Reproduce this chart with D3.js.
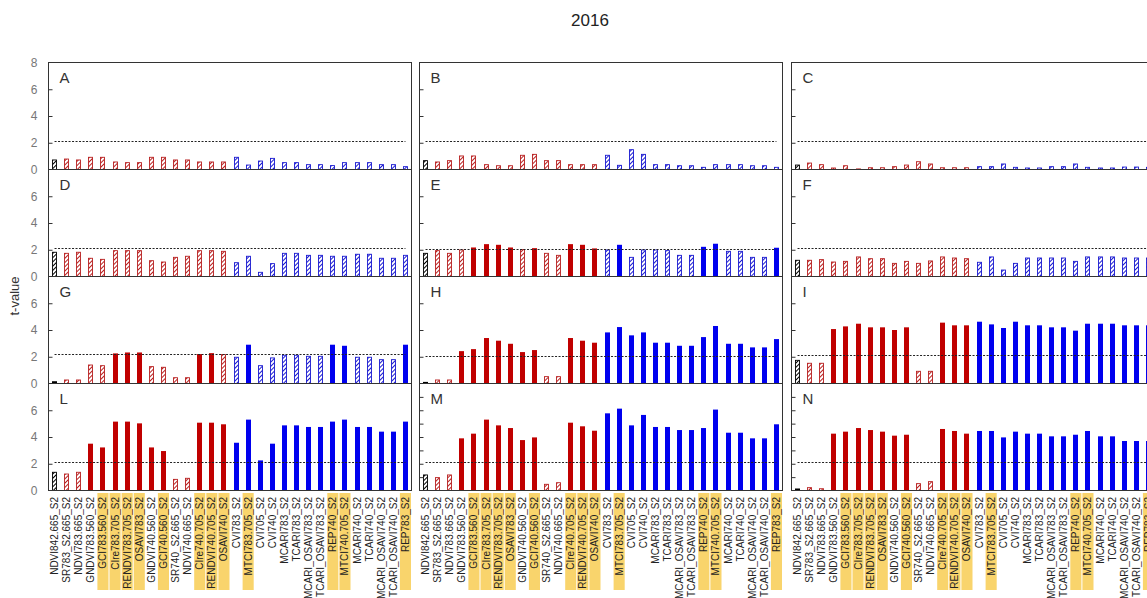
<!DOCTYPE html>
<html>
<head>
<meta charset="utf-8">
<script src="https://cdn.jsdelivr.net/npm/d3@7"></script>
<style>
  body { margin: 0; background: #fff; overflow: hidden; }
  text { font-family: "Liberation Sans", Arial, sans-serif; }
</style>
</head>
<body>
<svg id="chart" width="1147" height="598"></svg>
<script>
// Vegetation indices (x categories), shared by every panel
const categories = [
  "NDVI842.665_S2", "SR783_S2.665_S2", "NDVI783.665_S2", "GNDVI783.560_S2",
  "GCI783.560_S2", "CIre783.705_S2", "RENDVI783.705_S2", "OSAVI783_S2",
  "GNDVI740.560_S2", "GCI740.560_S2", "SR740_S2.665_S2", "NDVI740.665_S2",
  "CIre740.705_S2", "RENDVI740.705_S2", "OSAVI740_S2",
  "CVI783_S2", "MTCI783.705_S2", "CVI705_S2", "CVI740_S2", "MCARI783_S2",
  "TCARI783_S2", "MCARI_OSAVI783_S2", "TCARI_OSAVI783_S2", "REP740_S2",
  "MTCI740.705_S2", "MCARI740_S2", "TCARI740_S2", "MCARI_OSAVI740_S2",
  "TCARI_OSAVI740_S2", "REP783_S2"
];

// Index family: 0 = reference NDVI, 1 = ratio/normalised indices, 2 = chlorophyll/red-edge indices
const family = [0, 1,1,1,1,1,1,1,1,1,1,1,1,1,1, 2,2,2,2,2,2,2,2,2,2,2,2,2,2,2];

// Red-edge indices shown on a highlighted label
const highlighted = [
  "GCI783.560_S2", "CIre783.705_S2", "RENDVI783.705_S2", "OSAVI783_S2",
  "GCI740.560_S2", "CIre740.705_S2", "RENDVI740.705_S2", "OSAVI740_S2",
  "MTCI783.705_S2", "REP740_S2", "MTCI740.705_S2", "REP783_S2"
];

const panelLetters = ["A", "B", "C", "D", "E", "F", "G", "H", "I", "L", "M", "N"];

// t-values per panel
const tA = [0.75,0.82,0.75,0.95,0.95,0.6,0.55,0.55,0.95,0.95,0.75,0.75,0.6,0.6,0.6,0.95,0.37,0.67,0.87,0.55,0.55,0.4,0.4,0.33,0.55,0.55,0.55,0.4,0.4,0.25];
const tB = [0.7,0.6,0.7,1.05,1.05,0.4,0.32,0.32,1.1,1.17,0.7,0.7,0.4,0.4,0.4,1.1,0.35,1.52,1.17,0.4,0.4,0.32,0.32,0.2,0.4,0.4,0.4,0.32,0.32,0.2];
const tC = [0.37,0.52,0.4,0.15,0.32,0.08,0.17,0.17,0.25,0.37,0.62,0.45,0.17,0.17,0.17,0.25,0.25,0.45,0.2,0.15,0.15,0.25,0.25,0.45,0.2,0.15,0.15,0.22,0.22,0.2];
const tD = [1.85,1.77,1.85,1.4,1.32,1.97,1.97,1.97,1.22,1.12,1.47,1.55,1.97,1.97,1.92,1.07,1.55,0.35,1.0,1.77,1.77,1.62,1.62,1.55,1.55,1.7,1.7,1.4,1.4,1.62];
const tE = [1.77,1.97,1.77,2.02,2.17,2.42,2.37,2.17,2.05,2.12,1.77,1.62,2.42,2.37,2.1,2.02,2.37,1.47,2.02,2.02,1.97,1.62,1.62,2.22,2.45,1.92,1.92,1.47,1.47,2.15];
const tF = [1.25,1.25,1.3,1.12,1.17,1.5,1.37,1.37,1.02,1.17,1.02,1.2,1.5,1.42,1.37,1.1,1.5,0.52,1.02,1.42,1.42,1.42,1.42,1.17,1.5,1.5,1.5,1.42,1.42,1.42];
const tG = [0.17,0.3,0.3,1.42,1.37,2.25,2.32,2.32,1.3,1.25,0.47,0.47,2.2,2.27,2.2,2.0,2.9,1.37,1.95,2.15,2.15,2.07,2.07,2.9,2.82,2.0,2.0,1.82,1.82,2.9];
const tH = [0.12,0.3,0.3,2.42,2.57,3.4,3.2,2.97,2.35,2.5,0.55,0.55,3.4,3.2,3.05,3.82,4.22,3.6,3.82,3.05,3.05,2.82,2.82,3.47,4.3,2.97,2.97,2.7,2.7,3.32];
const tI = [1.77,1.55,1.55,4.07,4.27,4.47,4.2,4.2,4.0,4.2,0.95,0.95,4.55,4.35,4.35,4.62,4.42,4.15,4.62,4.35,4.35,4.2,4.2,3.95,4.47,4.47,4.47,4.35,4.35,4.35];
const tL = [1.4,1.27,1.4,3.5,3.22,5.15,5.15,5.02,3.22,2.95,0.87,0.95,5.07,5.07,4.95,3.57,5.3,2.25,3.5,4.87,4.87,4.75,4.75,5.15,5.3,4.75,4.75,4.4,4.4,5.15];
const tM = [1.2,1.0,1.2,3.9,4.25,5.3,4.87,4.67,3.77,3.97,0.5,0.62,5.07,4.8,4.47,5.77,6.12,4.87,5.65,4.75,4.75,4.52,4.52,4.67,6.05,4.32,4.32,3.9,3.9,4.95];
const tN = [0.15,0.25,0.17,4.25,4.4,4.67,4.52,4.4,4.1,4.17,0.55,0.7,4.6,4.45,4.25,4.45,4.45,3.97,4.4,4.25,4.25,4.05,4.05,4.17,4.45,4.05,4.05,3.7,3.7,3.7];

// Significance flags per panel (1 = significant, solid bar; 0 = hatched bar)
const sigA = "000000000000000" + "000000000000000";
const sigB = "000000000000000" + "000000000000000";
const sigC = "000000000000000" + "000000000000000";
const sigD = "000000000000000" + "000000000000000";
const sigE = "000011110100111" + "010000001100001";
const sigF = "000000000000000" + "000000000000000";
const sigG = "100001110000110" + "010000001100001";
const sigH = "100111111100111" + "111111111111111";
const sigI = "000111111100111" + "111111111111111";
const sigL = "000111111100111" + "111111111111111";
const sigM = "000111111100111" + "111111111111111";
const sigN = "100111111100111" + "111111111111111";

// Critical t-value drawn as the dashed line in each panel
const tCrit = [2.16, 2.14, 2.14, 2.14, 2.03, 2.11, 2.2, 2.07, 2.1, 2.15, 2.15, 2.15];

const yTicks = [0, 2, 4, 6, 8];
const yTicksFine = [1, 2, 3, 4, 5, 6, 7];

const panelValues = [tA, tB, tC, tD, tE, tF, tG, tH, tI, tL, tM, tN];
const panelSig = [sigA, sigB, sigC, sigD, sigE, sigF, sigG, sigH, sigI, sigL, sigM, sigN];

// ---- layout ----
const colX = [48.5, 419.5, 791.5];
const rowY = [62.5, 169.5, 276.5, 383.5];
const PW = 363, PH = 107;
const familyColor = ["#000000", "#c00000", "#0000ee"];
const hatchColor = ["#000000", "#b82020", "#1a1ad0"];

const svg = d3.select("#chart");
const defs = svg.append("defs");
hatchColor.forEach((c, i) => {
  const p = defs.append("pattern")
    .attr("id", "hatch" + i)
    .attr("patternUnits", "userSpaceOnUse")
    .attr("width", 3).attr("height", 3)
    .attr("patternTransform", "rotate(45)");
  p.append("rect").attr("width", 3).attr("height", 3).attr("fill", "#fff");
  p.append("line").attr("x1", 0.5).attr("y1", 0).attr("x2", 0.5).attr("y2", 3)
    .attr("stroke", c).attr("stroke-width", 1);
});

// title and y axis title
svg.append("text").attr("x", 590).attr("y", 26).attr("text-anchor", "middle")
  .attr("font-size", 17).attr("fill", "#222").text("2016");
svg.append("text").attr("transform", "translate(19,296) rotate(-90)")
  .attr("text-anchor", "middle").attr("font-size", 13).attr("fill", "#333").text("t-value");

panelLetters.forEach((letter, pi) => {
  const col = pi % 3, row = Math.floor(pi / 3);
  const x0 = colX[col], y0 = rowY[row];
  const values = panelValues[pi];
  const sig = panelSig[pi];

  const x = d3.scaleBand().domain(categories).range([x0, x0 + PW])
    .paddingInner(0.58).paddingOuter(0.29);
  const y = d3.scaleLinear().domain([0, 8]).range([y0 + PH, y0]);

  const g = svg.append("g");

  // bars
  categories.forEach((cat, i) => {
    const v = values[i];
    const bx = Math.round(x(cat)) + 0.5;
    const by = y(v);
    const h = y(0) - by;
    const fam = family[i];
    if (sig[i] === "1") {
      g.append("rect").attr("x", bx - 0.5).attr("y", by).attr("width", 5).attr("height", h)
        .attr("fill", familyColor[fam]);
    } else {
      g.append("rect").attr("x", bx).attr("y", by + 0.5).attr("width", 4).attr("height", Math.max(h - 0.5, 0))
        .attr("fill", "url(#hatch" + fam + ")")
        .attr("stroke", hatchColor[fam]).attr("stroke-width", 0.9);
    }
  });

  // critical value
  const xFirst = x(categories[0]) + x.bandwidth() / 2;
  const xLast = x(categories[categories.length - 1]) + x.bandwidth() / 2;
  g.append("line").attr("x1", xFirst).attr("x2", xLast)
    .attr("y1", Math.round(y(tCrit[pi])) + 0.5).attr("y2", Math.round(y(tCrit[pi])) + 0.5)
    .attr("stroke", "#222").attr("stroke-width", 1).attr("stroke-dasharray", "2,1.5");

  // panel frame
  g.append("rect").attr("x", x0).attr("y", y0).attr("width", PW).attr("height", PH)
    .attr("fill", "none").attr("stroke", "#333").attr("stroke-width", 1);

  // y ticks
  const tickVals = (row === 3 && col > 0) ? yTicksFine : yTicks.filter(t => t > 0 && t < 8);
  const axis = d3.axisRight(y).tickValues(tickVals).tickSize(4).tickFormat("");
  const ag = g.append("g").attr("transform", `translate(${x0},0)`).call(axis);
  ag.select(".domain").remove();
  ag.selectAll("line").attr("stroke", "#333");

  if (col === 0) {
    const labelVals = row === 0 ? yTicks : yTicks.filter(t => t < 8);
    const la = d3.axisLeft(y).tickValues(labelVals).tickSize(0).tickPadding(11);
    const lg = g.append("g").attr("transform", `translate(${x0},0)`).call(la);
    lg.select(".domain").remove();
    lg.selectAll("text").attr("font-size", 12).attr("fill", "#777")
      .attr("font-family", "\"Liberation Sans\", Arial, sans-serif");
  }

  // panel letter
  g.append("text").attr("x", x0 + 11).attr("y", y0 + 20)
    .attr("font-size", 15).attr("fill", "#333").text(letter);

  // category labels under the bottom row
  if (row === 3) {
    const lab = svg.append("g");
    categories.forEach(cat => {
      const cx = x(cat) + x.bandwidth() / 2;
      if (highlighted.includes(cat)) {
        lab.append("rect").attr("x", cx - x.step() / 2 + 0.5).attr("y", 493)
          .attr("width", x.step() - 1).attr("height", 97).attr("fill", "#f9d46c");
      }
      lab.append("text")
        .attr("transform", `translate(${cx},497) rotate(-90)`)
        .attr("text-anchor", "end").attr("dy", "0.35em")
        .attr("font-size", 10).attr("fill", "#222").text(cat);
    });
  }
});
</script>
</body>
</html>
